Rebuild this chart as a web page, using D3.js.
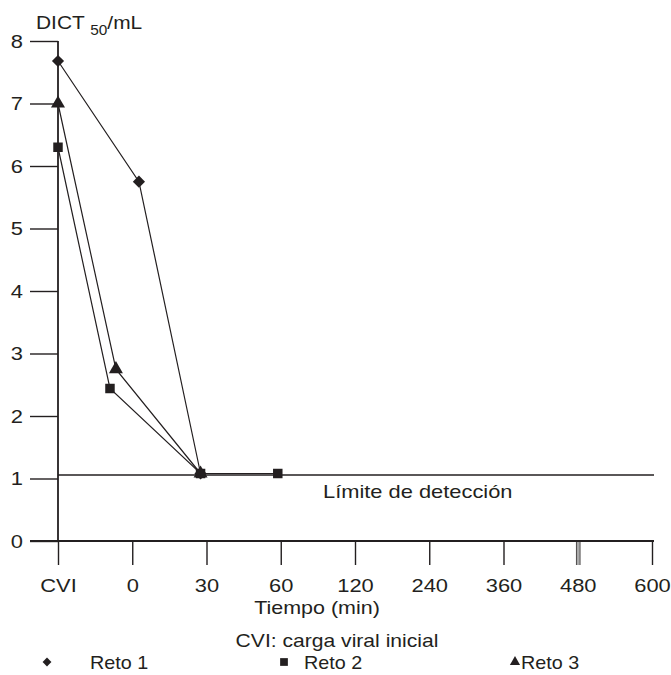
<!DOCTYPE html>
<html><head><meta charset="utf-8">
<script src="https://cdn.jsdelivr.net/npm/d3@7"></script>
<style>
body{margin:0;background:#fff}
text{font-family:"Liberation Sans",Arial,sans-serif;fill:#231f20}
</style></head><body>
<svg id="c" width="671" height="675"></svg>
<script>
// ---- data ----
const categories = ["CVI","0","30","60","120","240","360","480","600"];
const yTicks = [0,1,2,3,4,5,6,7,8];
// positions are in category-index units (0 = CVI, 1 = 0 min, 2 = 30 min ...)
const reto1Pos = [0, 1.09, 1.92];
const reto1Val = [7.68, 5.75, 1.08];
const reto2Pos = [0, 0.70, 1.92, 2.96];
const reto2Val = [6.30, 2.44, 1.08, 1.08];
const reto3Pos = [0, 0.78, 1.92];
const reto3Val = [7.00, 2.75, 1.08];
const detectionLimit = 1.055;
const seriesNames = ["Reto 1","Reto 2","Reto 3"];

const ink = "#231f20";
const svg = d3.select("#c");
const x = d3.scaleLinear().domain([0, categories.length-1]).range([58, 652]);
const xc = d3.scalePoint().domain(categories).range([58, 652]);
const y = d3.scaleLinear().domain([0, 8]).range([541, 41]);

function widen(sel, f){
  sel.each(function(){
    const w = this.getComputedTextLength();
    if (w > 0) {
      this.setAttribute("textLength", (w*f).toFixed(1));
      this.setAttribute("lengthAdjust","spacingAndGlyphs");
    }
  });
}

// y axis
const ya = svg.append("g").attr("transform","translate(58,0)")
  .call(d3.axisLeft(y).tickValues(yTicks).tickSize(28).tickPadding(7).tickFormat(d3.format("d")));
ya.select(".domain").remove();
ya.selectAll(".tick line").attr("stroke",ink).attr("stroke-width",1.4);
ya.selectAll("text").style("font-size","19px").attr("fill",ink);
svg.append("line").attr("x1",58).attr("x2",58).attr("y1",y(8)).attr("y2",y(0))
  .attr("stroke",ink).attr("stroke-width",1.8);

// x axis
const xa = svg.append("g").attr("transform",`translate(0,${y(0)})`)
  .call(d3.axisBottom(xc).tickSize(24).tickPadding(14));
xa.select(".domain").remove();
xa.selectAll(".tick line").attr("stroke",ink).attr("stroke-width",1.4);
xa.selectAll(".tick").filter(d=>d==="480").select("line")
  .attr("stroke","#aaa").attr("stroke-width",3);
xa.selectAll(".tick").filter(d=>d==="480").append("line")
  .attr("x1",-1.8).attr("x2",-1.8).attr("y2",24).attr("stroke",ink).attr("stroke-width",0.8);
xa.selectAll(".tick").filter(d=>d==="480").append("line")
  .attr("x1",1.8).attr("x2",1.8).attr("y2",24).attr("stroke",ink).attr("stroke-width",0.8);
xa.selectAll("text").style("font-size","19px").attr("fill",ink);
svg.append("line").attr("x1",30).attr("x2",654).attr("y1",y(0)).attr("y2",y(0))
  .attr("stroke",ink).attr("stroke-width",1.8);
widen(ya.selectAll("text"), 1.15);
widen(xa.selectAll("text"), 1.15);

// detection limit
svg.append("line").attr("x1",58).attr("x2",654)
  .attr("y1",y(detectionLimit)).attr("y2",y(detectionLimit))
  .attr("stroke",ink).attr("stroke-width",1.4);
widen(svg.append("text").attr("x",323).attr("y",498).style("font-size","19px").text("Límite de detección"), 1.15);

// series
const series = [
  {pos:reto1Pos, val:reto1Val, sym:d3.symbolDiamond2, size:95},
  {pos:reto2Pos, val:reto2Val, sym:d3.symbolSquare, size:90},
  {pos:reto3Pos, val:reto3Val, sym:d3.symbolTriangle, size:85}
];
const line = d3.line().x(d=>x(d[0])).y(d=>y(d[1]));
series.forEach(s=>{
  const pts = s.pos.map((p,i)=>[p, s.val[i]]);
  svg.append("path").attr("d", line(pts)).attr("fill","none")
    .attr("stroke",ink).attr("stroke-width",1.2);
});
series.forEach(s=>{
  const pts = s.pos.map((p,i)=>[p, s.val[i]]);
  svg.selectAll(null).data(pts).enter().append("path")
    .attr("d", d3.symbol().type(s.sym).size(s.size))
    .attr("transform", d=>`translate(${x(d[0])},${y(d[1])})`)
    .attr("fill",ink);
});

// titles
const t = svg.append("text").attr("x",36).attr("y",29).style("font-size","19px");
t.append("tspan").text("DICT ");
t.append("tspan").attr("dy",6).style("font-size","14px").text("50");
t.append("tspan").attr("dy",-6).text("/mL");
widen(t, 1.1);
widen(svg.append("text").attr("x",317).attr("y",614).attr("text-anchor","middle").style("font-size","19px").text("Tiempo (min)"), 1.13);
widen(svg.append("text").attr("x",337).attr("y",647).attr("text-anchor","middle").style("font-size","19px").text("CVI: carga viral inicial"), 1.11);

// legend
const legX = [47, 284, 515];
const legTextX = [90, 304, 521];
const legSyms = [[d3.symbolDiamond2,50],[d3.symbolSquare,60],[d3.symbolTriangle,45]];
seriesNames.forEach((n,i)=>{
  svg.append("path").attr("d", d3.symbol().type(legSyms[i][0]).size(legSyms[i][1]))
    .attr("transform",`translate(${legX[i]},662)`).attr("fill",ink);
  widen(svg.append("text").attr("x",legTextX[i]).attr("y",669).style("font-size","19px").text(n), 1.04);
});
</script></body></html>
